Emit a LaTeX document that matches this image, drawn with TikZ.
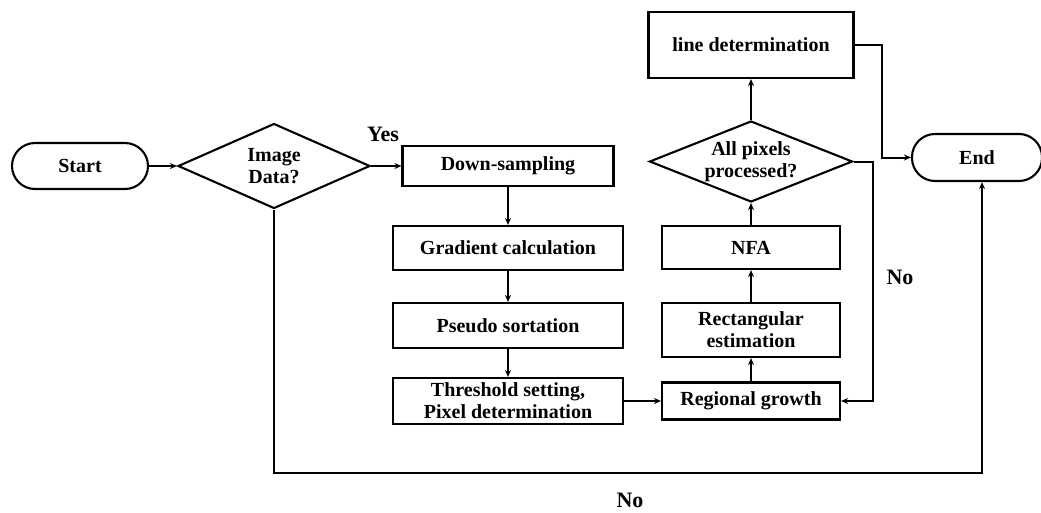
\documentclass[tikz,border=0pt]{standalone}
\usepackage{fontspec}
\setmainfont{Liberation Serif}
\usetikzlibrary{shapes.geometric,arrows.meta}
\begin{document}
\begin{tikzpicture}[x=1pt,y=-1pt,
  every node/.style={font=\bfseries\fontsize{20}{22}\selectfont, align=center, inner sep=0pt},
  box/.style={draw, line width=2.1pt, rectangle},
  term/.style={draw, line width=2.1pt, rectangle, rounded corners=23pt},
  dec/.style={draw, line width=2.1pt, diamond, inner xsep=-60pt, inner ysep=-30pt},
  conn/.style={line width=2pt, -{Stealth[length=7pt,width=6pt]}},
  lbl/.style={font=\bfseries\fontsize{22}{24}\selectfont}]
\useasboundingbox (0,0) rectangle (1041,512);
\node[term, minimum width=136pt, minimum height=46pt] (start) at (80,166) {Start};
\node[dec, minimum width=192pt, minimum height=85pt] (img) at (274,166) {Image\\Data?};
\node[box, minimum width=211pt, minimum height=40pt] (down) at (508,166) {Down-sampling};
\node[box, minimum width=230pt, minimum height=44pt] (grad) at (508,248) {Gradient calculation};
\node[box, minimum width=230pt, minimum height=45pt] (pseudo) at (508,325.5) {Pseudo sortation};
\node[box, minimum width=230pt, minimum height=46pt] (thr) at (508,401) {Threshold setting,\\Pixel determination};
\node[box, minimum width=178pt, minimum height=37pt] (reg) at (751,401) {Regional growth};
\node[box, minimum width=178pt, minimum height=54pt] (rect) at (751,330) {Rectangular\\estimation};
\node[box, minimum width=178pt, minimum height=43pt] (nfa) at (751,247.5) {NFA};
\node[dec, minimum width=203pt, minimum height=81pt] (all) at (751,161.5) {All pixels\\processed?};
\node[box, minimum width=205pt, minimum height=66pt] (line) at (751,45) {line determination};
\node[term, minimum width=130pt, minimum height=47pt] (end) at (977,157.5) {End};
\node[lbl] (yes) at (383,134) {Yes};
\node[lbl] (no1) at (900,277) {No};
\node[lbl] (no2) at (630,500) {No};
\coordinate (c1) at (882,45);
\coordinate (c2) at (873,161.5);
\coordinate (c3) at (274,473);
\coordinate (c4) at (982,473);
\draw[conn] (start.east) -- (img.west);
\draw[conn] (img.east) -- (down.west);
\draw[conn] (down.south) -- (grad.north);
\draw[conn] (grad.south) -- (pseudo.north);
\draw[conn] (pseudo.south) -- (thr.north);
\draw[conn] (thr.east) -- (reg.west);
\draw[conn] (reg.north) -- (rect.south);
\draw[conn] (rect.north) -- (nfa.south);
\draw[conn] (nfa.north) -- (all.south);
\draw[conn] (all.north) -- (line.south);
\draw[conn] (line.east) -- (c1) |- (end.west);
\draw[conn] (all.east) -- (c2) |- (reg.east);
\draw[conn] (img.south) -- (c3) -- (c4) -- (c4 |- end.south);
\end{tikzpicture}
\end{document}
